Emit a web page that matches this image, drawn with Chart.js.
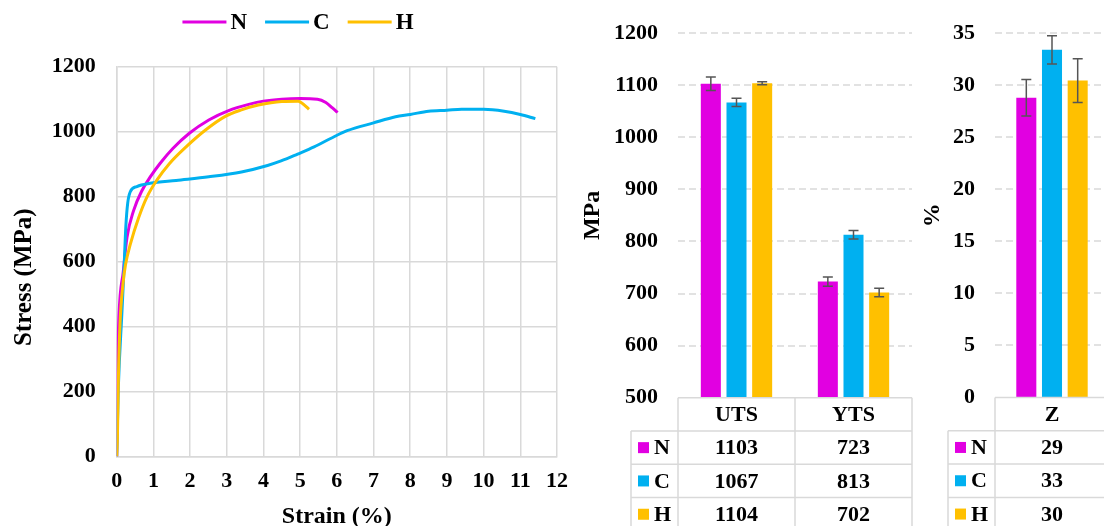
<!DOCTYPE html>
<html><head><meta charset="utf-8">
<script src="https://cdn.jsdelivr.net/npm/chart.js@4.4.1/dist/chart.umd.min.js"></script>
<style>
html,body{margin:0;padding:0;background:#fff;width:1104px;height:526px;overflow:hidden;position:relative;}
canvas{position:absolute;top:0;}
#c1{left:0;} #c2{left:580px;} #c3{left:900px;}
</style></head><body>
<canvas id="c1" width="580" height="526"></canvas>
<canvas id="c2" width="340" height="526"></canvas>
<canvas id="c3" width="220" height="526"></canvas>
<script>
// ---------- data ----------
const seriesNames = ['N', 'C', 'H'];
const seriesColors = ['#E100E1', '#00B0F0', '#FFC000'];

// Stress–strain curves (strain %, stress MPa)
const strainN = [0, 0.02, 0.06, 0.18, 0.28, 0.46, 0.69, 0.91, 1.18, 1.53, 1.98, 2.51, 3.05, 3.6, 4.0, 4.5, 5.0, 5.47, 5.7, 5.87, 6.02];
const stressN = [0, 250, 430, 570, 674, 757, 819, 860, 902, 948, 995, 1036, 1065, 1084, 1094, 1100, 1102, 1100, 1090, 1074, 1059];
const strainC = [0, 0.045, 0.14, 0.2, 0.25, 0.3, 0.37, 0.55, 0.91, 1.62, 2.51, 3.4, 4.11, 4.48, 4.93, 5.38, 5.83, 6.28, 7.0, 7.6, 8.0, 8.5, 9.0, 9.4, 10.0, 10.56, 11.0, 11.41];
const stressC = [0, 213, 439, 580, 710, 780, 815, 831, 841, 850, 861, 876, 896, 910, 931, 953, 979, 1003, 1027, 1046, 1053, 1063, 1066, 1069, 1069, 1063, 1053, 1040];
const strainH = [0, 0.02, 0.045, 0.09, 0.17, 0.24, 0.37, 0.6, 0.82, 1.09, 1.44, 1.89, 2.42, 2.96, 3.4, 3.86, 4.5, 4.95, 5.08, 5.24];
const stressH = [0, 60, 234, 408, 530, 590, 653, 736, 798, 850, 902, 953, 1005, 1047, 1067, 1082, 1093, 1094, 1085, 1069];

// Strength bar chart (MPa)
const strengthCategories = ['UTS', 'YTS'];
const strengthN = [1103, 723];
const strengthC = [1067, 813];
const strengthH = [1104, 702];
const strengthErrN = [13, 9];
const strengthErrC = [8, 8];
const strengthErrH = [3, 8];

// Reduction of area (%)
const reductionCategories = ['Z'];
const reductionN = [28.8];
const reductionC = [33.4];
const reductionH = [30.45];
const reductionErrN = [1.75];
const reductionErrC = [1.35];
const reductionErrH = [2.1];

// ---------- defaults ----------
const FONT = '"Liberation Serif", "Times New Roman", serif';
Chart.defaults.font.family = FONT;
Chart.defaults.font.weight = 'bold';
Chart.defaults.font.size = 22;
Chart.defaults.color = '#000';
const GRID = '#d9d9d9';
const plainTick = v => String(v);

// ---------- plugins ----------
const lineLegend = {
  id: 'lineLegend',
  afterDraw(chart, args, o) {
    const ctx = chart.ctx;
    ctx.save();
    ctx.font = 'bold 23px ' + FONT;
    const items = chart.data.datasets.map(ds => ({label: ds.label, color: ds.borderColor,
      tw: ctx.measureText(ds.label).width}));
    const total = items.reduce((s, it) => s + o.lineLength + o.textGap + it.tw, 0) + o.itemGap * (items.length - 1);
    let x = o.centerX - total / 2;
    items.forEach(it => {
      ctx.strokeStyle = it.color; ctx.lineWidth = 3; ctx.lineCap = 'butt';
      ctx.beginPath(); ctx.moveTo(x, o.y); ctx.lineTo(x + o.lineLength, o.y); ctx.stroke();
      x += o.lineLength + o.textGap;
      ctx.fillStyle = '#000'; ctx.textAlign = 'left'; ctx.textBaseline = 'middle';
      ctx.fillText(it.label, x, o.y + 1);
      x += it.tw + o.itemGap;
    });
    ctx.restore();
  }
};

const dashedGrid = {
  id: 'dashedGrid',
  beforeDatasetsDraw(chart) {
    const ctx = chart.ctx, ys = chart.scales.y, a = chart.chartArea;
    ctx.save();
    ctx.strokeStyle = GRID; ctx.lineWidth = 1.5; ctx.setLineDash([7, 4]);
    ys.ticks.forEach(t => {
      const y = Math.round(ys.getPixelForValue(t.value));
      if (y >= a.bottom - 1) return;
      ctx.beginPath(); ctx.moveTo(a.left, y); ctx.lineTo(a.right, y); ctx.stroke();
    });
    ctx.restore();
  }
};

const errorBars = {
  id: 'errorBars',
  afterDatasetsDraw(chart) {
    const ctx = chart.ctx, ys = chart.scales.y;
    ctx.save();
    ctx.strokeStyle = '#555'; ctx.lineWidth = 1.5;
    chart.data.datasets.forEach((ds, di) => {
      const meta = chart.getDatasetMeta(di);
      meta.data.forEach((bar, i) => {
        const v = ds.data[i], e = ds.errors[i];
        const yt = ys.getPixelForValue(v + e), yb = ys.getPixelForValue(v - e);
        ctx.beginPath();
        ctx.moveTo(bar.x, yt); ctx.lineTo(bar.x, yb);
        ctx.moveTo(bar.x - 5, yt); ctx.lineTo(bar.x + 5, yt);
        ctx.moveTo(bar.x - 5, yb); ctx.lineTo(bar.x + 5, yb);
        ctx.stroke();
      });
    });
    ctx.restore();
  }
};

const dataTable = {
  id: 'dataTable',
  afterDraw(chart, args, o) {
    const ctx = chart.ctx, a = chart.chartArea;
    const labels = chart.data.labels, n = labels.length;
    const cw = (a.right - a.left) / n;
    const top = a.bottom, rh = o.rowHeight, lw = o.legendWidth;
    const rows = chart.data.datasets.length;
    const bottom = top + rh * (rows + 1);
    ctx.save();
    ctx.strokeStyle = GRID; ctx.lineWidth = 1.5;
    ctx.beginPath();
    ctx.moveTo(a.left, top); ctx.lineTo(a.right, top);
    for (let r = 1; r <= rows + 1; r++) {
      const y = top + rh * r;
      ctx.moveTo(a.left - lw, y); ctx.lineTo(a.right, y);
    }
    for (let i = 0; i <= n; i++) {
      const x = a.left + cw * i;
      ctx.moveTo(x, top); ctx.lineTo(x, bottom);
    }
    ctx.moveTo(a.left - lw, top + rh); ctx.lineTo(a.left - lw, bottom);
    ctx.stroke();
    ctx.font = 'bold 22px ' + FONT;
    ctx.textBaseline = 'middle';
    ctx.fillStyle = '#000'; ctx.textAlign = 'center';
    labels.forEach((lab, i) => ctx.fillText(lab, a.left + cw * (i + 0.5), top + rh / 2 + 1));
    chart.data.datasets.forEach((ds, r) => {
      const y = top + rh * (r + 1) + rh / 2;
      ctx.fillStyle = '#000'; ctx.textAlign = 'center';
      ds.data.forEach((v, i) => ctx.fillText(String(Math.round(v)), a.left + cw * (i + 0.5), y + 1));
      ctx.fillStyle = ds.backgroundColor;
      ctx.fillRect(a.left - lw + o.keyOffset, y - 5.5, 11, 11);
      ctx.fillStyle = '#000'; ctx.textAlign = 'left';
      ctx.fillText(ds.label, a.left - lw + o.keyOffset + 16, y + 1);
    });
    ctx.restore();
  }
};

// ---------- chart 1: stress–strain ----------
function pts(xs, ys) { return xs.map((x, i) => ({x, y: ys[i]})); }
const curves = [[strainN, stressN], [strainC, stressC], [strainH, stressH]];
new Chart(document.getElementById('c1'), {
  type: 'line',
  data: {
    datasets: curves.map((c, i) => ({
      label: seriesNames[i], data: pts(c[0], c[1]),
      borderColor: seriesColors[i], backgroundColor: seriesColors[i],
      borderWidth: 3, pointRadius: 0, cubicInterpolationMode: 'monotone',
      order: 2 - i, fill: false
    }))
  },
  options: {
    responsive: false, animation: false, devicePixelRatio: 1,
    layout: {padding: {top: 66.7, right: 16.7, left: 0, bottom: 0}},
    plugins: {legend: {display: false}, tooltip: {enabled: false},
      lineLegend: {centerX: 298, y: 22, lineLength: 44, textGap: 4, itemGap: 18}},
    scales: {
      x: {type: 'linear', min: 0, max: 12,
        ticks: {stepSize: 1, padding: 12, font: {size: 22}, callback: plainTick},
        grid: {color: GRID, lineWidth: 1.5, drawTicks: false},
        border: {color: GRID, width: 1.5},
        title: {display: true, text: 'Strain (%)', font: {size: 24, lineHeight: 0.8}, padding: {top: 0, bottom: 0}},
        afterFit(s) { s.height = 69.5; }
      },
      y: {min: 0, max: 1200,
        ticks: {stepSize: 200, padding: 21, font: {size: 22}, callback: plainTick},
        grid: {color: GRID, lineWidth: 1.5, drawTicks: false},
        border: {color: GRID, width: 1.5},
        title: {display: true, text: 'Stress (MPa)     ', font: {size: 25, lineHeight: 0.8}, padding: {top: 14.4, bottom: 0}},
        afterFit(s) { s.width = 116.7; }
      }
    }
  },
  plugins: [lineLegend]
});

// ---------- bar charts ----------
function barChart(id, cats, vals, errs, yopt, area, titleText, titlePad, catPct) {
  return new Chart(document.getElementById(id), {
    type: 'bar',
    data: {
      labels: cats,
      datasets: vals.map((v, i) => ({
        label: seriesNames[i], data: v, errors: errs[i],
        backgroundColor: seriesColors[i], borderWidth: 0,
        categoryPercentage: catPct, barPercentage: 0.78
      }))
    },
    options: {
      responsive: false, animation: false, devicePixelRatio: 1,
      layout: {padding: {top: area.top, right: area.right, left: 0, bottom: area.bottom}},
      plugins: {legend: {display: false}, tooltip: {enabled: false},
        dataTable: {rowHeight: 33.3, legendWidth: 47, keyOffset: 7}},
      scales: {
        x: {display: false},
        y: {min: yopt.min, max: yopt.max,
          ticks: {stepSize: yopt.step, padding: 20, font: {size: 22}, callback: plainTick},
          grid: {display: false, drawTicks: false},
          border: {display: false},
          title: {display: true, text: titleText, font: {size: 24, lineHeight: 1}, padding: {top: titlePad, bottom: 0}},
          afterFit(s) { s.width = area.left; }
        }
      }
    },
    plugins: [dashedGrid, errorBars, dataTable]
  });
}

barChart('c2', strengthCategories,
  [strengthN, strengthC, strengthH],
  [strengthErrN, strengthErrC, strengthErrH],
  {min: 500, max: 1200, step: 100},
  {left: 98, right: 8, top: 20, bottom: 128.3}, 'MPa', 1, 0.658);

barChart('c3', reductionCategories,
  [reductionN, reductionC, reductionH],
  [reductionErrN, reductionErrC, reductionErrH],
  {min: 0, max: 35, step: 5},
  {left: 95, right: 11, top: 22, bottom: 128.5}, '%', 21, 0.676);
</script>
</body></html>
